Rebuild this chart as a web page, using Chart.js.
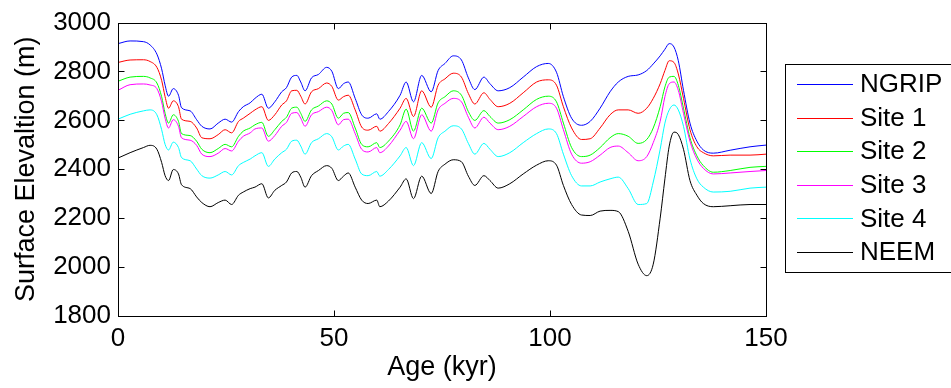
<!DOCTYPE html>
<html>
<head>
<meta charset="utf-8">
<script src="https://cdn.jsdelivr.net/npm/chart.js@4/dist/chart.umd.min.js"></script>
<style>
  html, body { margin: 0; padding: 0; background: #fff; }
  #wrap { width: 951px; height: 388px; position: relative; }
</style>
</head>
<body>
<div id="wrap"><canvas id="elevChart"></canvas></div>
<script>
// Age (kyr) sample points
const ages = [0, 2.8, 5.9, 7.4, 9.0, 10.1, 10.9, 11.7, 12.8, 14.0,
  14.7, 16.7, 18.2, 19.4, 21.3, 23.2, 24.8, 26.3, 27.9, 29.0,
  30.6, 31.7, 33.3, 34.8, 36.3, 37.9, 39.0, 40.2, 41.4, 42.3,
  43.3, 44.8, 46.4, 48.3, 49.5, 51.0, 52.2, 53.3, 54.9, 56.4,
  57.9, 59.9, 60.6, 62.6, 65.3, 66.7, 68.4, 70.3, 72.5, 74.1,
  75.7, 77.6, 79.5, 81.1, 82.6, 84.7, 86.1, 88.0, 90.7, 93.8,
  96.9, 99.6, 101.5, 103.1, 105.0, 107.3, 109.3, 111.6, 113.9, 115.8,
  118.1, 120.4, 122.4, 123.9, 125.5, 126.6, 127.6, 128.7, 129.7, 130.9,
  132.4, 134.0, 135.5, 137.8, 141.7, 146.3, 150];

// surface elevation (m)
const ngrip = [2914, 2925, 2922, 2909, 2871, 2811, 2744, 2699, 2730, 2703,
  2652, 2639, 2603, 2576, 2565, 2589, 2605, 2593, 2636, 2656,
  2672, 2690, 2707, 2650, 2676, 2717, 2734, 2777, 2784, 2757,
  2721, 2774, 2788, 2817, 2801, 2730, 2750, 2757, 2690, 2623,
  2609, 2627, 2605, 2636, 2703, 2757, 2676, 2784, 2717, 2804,
  2833, 2864, 2847, 2774, 2726, 2777, 2750, 2721, 2734, 2777,
  2820, 2833, 2797, 2697, 2609, 2580, 2596, 2650, 2717, 2757,
  2780, 2786, 2804, 2831, 2864, 2891, 2914, 2900, 2844, 2723,
  2589, 2515, 2479, 2466, 2478, 2492, 2499];
const site1 = [2837, 2847, 2848, 2841, 2817, 2764, 2697, 2650, 2680, 2656,
  2605, 2596, 2569, 2529, 2525, 2542, 2562, 2549, 2596, 2609,
  2629, 2643, 2656, 2600, 2623, 2663, 2680, 2721, 2723, 2699,
  2667, 2717, 2730, 2753, 2739, 2683, 2697, 2703, 2643, 2573,
  2560, 2576, 2556, 2587, 2650, 2690, 2616, 2721, 2654, 2744,
  2770, 2793, 2777, 2710, 2667, 2713, 2686, 2656, 2670, 2713,
  2757, 2766, 2744, 2656, 2569, 2522, 2525, 2569, 2623, 2643,
  2643, 2629, 2650, 2690, 2750, 2804, 2844, 2837, 2790, 2690,
  2562, 2492, 2468, 2455, 2458, 2458, 2462];
const site2 = [2760, 2777, 2780, 2774, 2753, 2697, 2629, 2589, 2623, 2596,
  2546, 2538, 2515, 2482, 2468, 2485, 2502, 2492, 2535, 2556,
  2569, 2582, 2592, 2535, 2562, 2596, 2613, 2650, 2654, 2629,
  2596, 2643, 2659, 2680, 2667, 2609, 2629, 2632, 2569, 2502,
  2492, 2509, 2489, 2515, 2582, 2646, 2556, 2650, 2589, 2672,
  2697, 2721, 2703, 2636, 2600, 2640, 2616, 2589, 2603, 2643,
  2686, 2699, 2676, 2589, 2489, 2452, 2458, 2489, 2529, 2546,
  2535, 2506, 2522, 2569, 2656, 2737, 2777, 2780, 2744, 2650,
  2529, 2455, 2415, 2388, 2395, 2408, 2412];
const site3 = [2723, 2746, 2749, 2745, 2730, 2676, 2609, 2569, 2603, 2576,
  2529, 2519, 2498, 2462, 2452, 2466, 2485, 2475, 2515, 2535,
  2549, 2565, 2569, 2515, 2538, 2576, 2592, 2629, 2632, 2609,
  2576, 2623, 2636, 2654, 2640, 2582, 2603, 2605, 2546, 2482,
  2471, 2489, 2468, 2495, 2560, 2596, 2525, 2623, 2556, 2643,
  2670, 2690, 2676, 2613, 2569, 2613, 2589, 2562, 2576, 2616,
  2656, 2670, 2650, 2562, 2462, 2425, 2431, 2458, 2489, 2495,
  2468, 2435, 2452, 2509, 2596, 2697, 2750, 2757, 2723, 2629,
  2515, 2442, 2404, 2381, 2385, 2391, 2395];
const site4 = [2605, 2625, 2639, 2643, 2623, 2562, 2502, 2479, 2511, 2489,
  2448, 2435, 2401, 2374, 2364, 2377, 2391, 2377, 2415, 2428,
  2442, 2455, 2468, 2412, 2442, 2468, 2482, 2515, 2519, 2495,
  2462, 2509, 2525, 2546, 2533, 2479, 2495, 2502, 2442, 2381,
  2374, 2391, 2372, 2399, 2455, 2489, 2415, 2509, 2444, 2529,
  2556, 2578, 2565, 2506, 2462, 2506, 2482, 2452, 2468, 2509,
  2546, 2565, 2546, 2462, 2374, 2332, 2332, 2348, 2361, 2368,
  2321, 2256, 2260, 2348, 2482, 2589, 2643, 2663, 2643, 2576,
  2442, 2361, 2327, 2307, 2310, 2323, 2327];
const neem = [2446, 2468, 2489, 2498, 2482, 2428, 2374, 2354, 2399, 2381,
  2337, 2321, 2287, 2264, 2247, 2264, 2274, 2256, 2294, 2307,
  2321, 2327, 2341, 2283, 2314, 2334, 2348, 2385, 2391, 2368,
  2327, 2374, 2395, 2415, 2404, 2354, 2372, 2385, 2327, 2274,
  2260, 2274, 2247, 2270, 2327, 2361, 2280, 2372, 2301, 2391,
  2421, 2439, 2431, 2372, 2334, 2374, 2354, 2323, 2341, 2381,
  2417, 2435, 2417, 2334, 2256, 2213, 2211, 2229, 2232, 2227,
  2146, 2012, 1965, 2012, 2200, 2361, 2495, 2552, 2542, 2482,
  2354, 2294, 2260, 2247, 2251, 2256, 2256];

const seriesNames = ['NGRIP', 'Site 1', 'Site 2', 'Site 3', 'Site 4', 'NEEM'];
const seriesColors = ['#0000ff', '#ff0000', '#00ff00', '#ff00ff', '#00ffff', '#000000'];
const seriesValues = [ngrip, site1, site2, site3, site4, neem];

const xTicks = [0, 50, 100, 150];
const yTicks = [1800, 2000, 2200, 2400, 2600, 2800, 3000];

const FONT = "'Liberation Sans', Arial, sans-serif";

// matlab style box, inward ticks and boxed legend on the right
const matlabFrame = {
    id: 'matlabFrame',
    afterDraw(chart) {
        const { ctx, chartArea: a, scales: { x, y } } = chart;
        const L = Math.round(a.left) + 0.5, R = Math.round(a.right) + 0.5;
        const T = Math.round(a.top) + 0.5, B = Math.round(a.bottom) + 0.5;
        ctx.save();
        ctx.strokeStyle = '#000';
        ctx.lineWidth = 1;
        ctx.strokeRect(L, T, R - L, B - T);

        ctx.beginPath();
        x.ticks.forEach(t => {
            const px = Math.round(x.getPixelForValue(t.value)) + 0.5;
            ctx.moveTo(px, B); ctx.lineTo(px, B - 6);
            ctx.moveTo(px, T); ctx.lineTo(px, T + 6);
        });
        y.ticks.forEach(t => {
            const py = Math.round(y.getPixelForValue(t.value)) + 0.5;
            ctx.moveTo(L, py); ctx.lineTo(L + 6, py);
            ctx.moveTo(R, py); ctx.lineTo(R - 6, py);
        });
        ctx.stroke();

        // legend
        const boxX = 785.5, boxY = 64.5;
        ctx.fillStyle = '#fff';
        ctx.fillRect(boxX, boxY, 170, 208);
        ctx.strokeRect(boxX, boxY, 170, 208);
        ctx.font = '26px ' + FONT;
        ctx.textBaseline = 'middle';
        ctx.textAlign = 'left';
        chart.data.datasets.forEach((ds, i) => {
            const ry = 84 + i * 33.6;
            ctx.strokeStyle = ds.borderColor;
            ctx.beginPath();
            ctx.moveTo(797, Math.round(ry) + 0.5);
            ctx.lineTo(853, Math.round(ry) + 0.5);
            ctx.stroke();
            ctx.fillStyle = '#000';
            ctx.fillText(ds.label, 860, ry + 1);
        });
        ctx.restore();
    }
};

const ctx = document.getElementById('elevChart').getContext('2d');
new Chart(ctx, {
    type: 'line',
    data: {
        datasets: seriesNames.map((name, i) => ({
            label: name,
            data: ages.map((a, j) => ({ x: a, y: seriesValues[i][j] })),
            borderColor: seriesColors[i],
            borderWidth: 1,
            pointRadius: 0,
            fill: false,
            cubicInterpolationMode: 'monotone',
            order: seriesNames.length - i
        }))
    },
    options: {
        responsive: true,
        maintainAspectRatio: false,
        animation: false,
        layout: { padding: { top: 18, right: 185, left: 0, bottom: 0 } },
        plugins: { legend: { display: false }, tooltip: { enabled: false } },
        scales: {
            x: {
                type: 'linear',
                min: 0, max: 150,
                afterBuildTicks: s => { s.ticks = xTicks.map(v => ({ value: v })); },
                afterFit: s => { s.height = 72; },
                grid: { display: false, drawTicks: false },
                border: { display: false },
                ticks: { color: '#000', font: { family: FONT, size: 26 }, padding: 7, maxRotation: 0, callback: v => String(v) },
                title: { display: true, text: 'Age (kyr)', color: '#000', font: { family: FONT, size: 27 }, padding: { top: 0, bottom: 4 } }
            },
            y: {
                min: 1800, max: 3000,
                afterBuildTicks: s => { s.ticks = yTicks.map(v => ({ value: v })); },
                afterFit: s => { s.width = 118; },
                grid: { display: false, drawTicks: false },
                border: { display: false },
                ticks: { color: '#000', font: { family: FONT, size: 26 }, padding: 7, callback: v => String(v) },
                title: { display: true, text: 'Surface Elevaltion (m)', color: '#000', font: { family: FONT, size: 27 }, padding: { top: 10, bottom: 0 } }
            }
        }
    },
    plugins: [matlabFrame]
});
</script>
</body>
</html>
